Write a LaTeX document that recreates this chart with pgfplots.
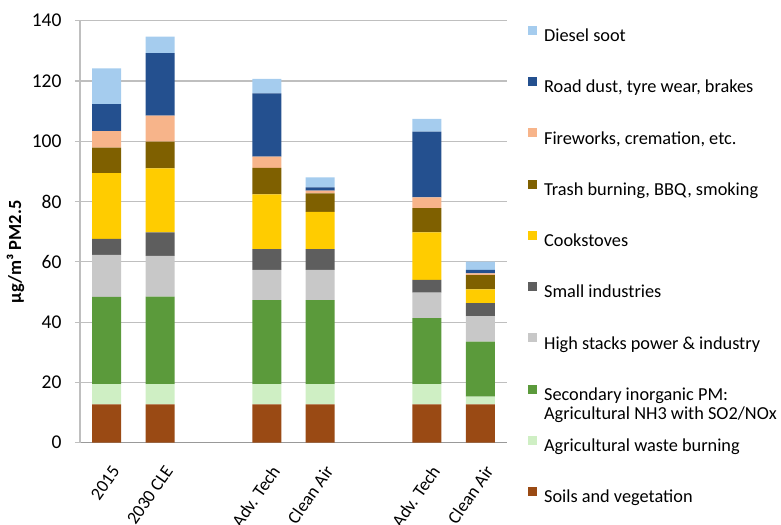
\documentclass[border=0pt]{standalone}
\usepackage{pgfplots}
\usepackage{pgfplotstable}
\pgfplotsset{compat=1.18}
\usepackage{fontspec}
\setmainfont{Carlito}

\definecolor{soil}{HTML}{9A4A14}
\definecolor{agw}{HTML}{CFEFC4}
\definecolor{sec}{HTML}{5B9A3B}
\definecolor{hs}{HTML}{C8C8C8}
\definecolor{small}{HTML}{5E5E5E}
\definecolor{cook}{HTML}{FFCC00}
\definecolor{trash}{HTML}{7F6000}
\definecolor{fw}{HTML}{F7B48A}
\definecolor{road}{HTML}{24508F}
\definecolor{diesel}{HTML}{A5CCEE}
\definecolor{gridc}{HTML}{BFBFBF}

% increments per source, bottom to top
\pgfplotstableread{
x soil agw sec hs small cook trash fw road diesel
0 12.7 6.7 29.0 13.9 5.3 21.8 8.5 5.5 8.9 11.9
1 12.7 6.7 29.1 13.5 7.8 21.2 8.9 8.6 20.7 5.5
3 12.7 6.7 27.9 10.0 6.9 18.2 8.8 3.7 21.0 4.8
4 12.7 6.7 27.9 10.0 6.9 12.4 6.1 0.9 1.1 3.3
6 12.7 6.7 21.9 8.5 4.2 15.8 8.0 3.6 21.8 4.2
7 12.7 2.6 18.2 8.5 4.3 4.6 4.7 0.6 1.1 2.8
}\pmdata

\newcommand\lstrut{\rule[-5bp]{0pt}{19bp}}

\begin{document}
\begin{tikzpicture}
\useasboundingbox (0,0) rectangle (781bp,525bp);
\begin{axis}[
  at={(80bp,82.3bp)}, anchor=south west,
  scale only axis, width=427bp, height=422bp,
  ybar stacked, bar width=29bp,
  xmin=-0.5, xmax=7.5, ymin=0, ymax=140,
  ytick={0,20,...,140},
  xtick={0,1,3,4,6,7},
  xticklabels={2015,2030 CLE,Adv. Tech,Clean Air,Adv. Tech,Clean Air},
  axis x line*=bottom, axis y line*=left,
  x axis line style={gridc!80!black, line width=1.2bp},
  y axis line style={gridc, line width=1.2bp},
  ymajorgrids, grid style={gridc, line width=1.2bp},
  major tick length=5bp,
  xtick style={draw=none},
  ytick style={gridc, line width=1.2bp},
  tick align=outside,
  /pgf/number format/assume math mode=true,
  yticklabel style={font=\fontsize{19.5bp}{22bp}\selectfont, xshift=-10bp},
  xticklabel style={font=\fontsize{18bp}{20bp}\selectfont, xshift=9bp, yshift=-20bp, rotate=55, anchor=east, inner sep=0pt},
  every axis y label/.style={at={(axis description cs:-0.151,0.452)}, rotate=90, anchor=center},
  ylabel={\fontsize{18.5bp}{22bp}\selectfont\bfseries µg/m³ PM2.5},
  legend style={at={(axis description cs:1.049,0.988)}, anchor=north west,
    draw=none, fill=none, inner sep=0pt, row sep=34bp, column sep=7bp,
    font=\fontsize{18.3bp}{22bp}\selectfont, nodes={inner sep=0pt}},
  legend cell align=left,
  reverse legend,
  legend image code/.code={\fill[#1] (0bp,0.5bp) rectangle (9bp,9.5bp);},
]
\addplot[fill=soil, draw=none] table[x=x,y=soil]{\pmdata};
\addlegendentry{\lstrut Soils and vegetation}
\addplot[fill=agw, draw=none] table[x=x,y=agw]{\pmdata};
\addlegendentry{\lstrut Agricultural waste burning}
\addplot[fill=sec, draw=none] table[x=x,y=sec]{\pmdata};
\addlegendentry{\lstrut\rlap{\raisebox{-19bp}[0pt][0pt]{Agricultural NH3 with SO2/NOx}}Secondary inorganic PM:}
\addplot[fill=hs, draw=none] table[x=x,y=hs]{\pmdata};
\addlegendentry{\lstrut High stacks power \& industry}
\addplot[fill=small, draw=none] table[x=x,y=small]{\pmdata};
\addlegendentry{\lstrut Small industries}
\addplot[fill=cook, draw=none] table[x=x,y=cook]{\pmdata};
\addlegendentry{\lstrut Cookstoves}
\addplot[fill=trash, draw=none] table[x=x,y=trash]{\pmdata};
\addlegendentry{\lstrut Trash burning, BBQ, smoking}
\addplot[fill=fw, draw=none] table[x=x,y=fw]{\pmdata};
\addlegendentry{\lstrut Fireworks, cremation, etc.}
\addplot[fill=road, draw=none] table[x=x,y=road]{\pmdata};
\addlegendentry{\lstrut Road dust, tyre wear, brakes}
\addplot[fill=diesel, draw=none] table[x=x,y=diesel]{\pmdata};
\addlegendentry{\lstrut Diesel soot}
\end{axis}
\end{tikzpicture}
\end{document}
